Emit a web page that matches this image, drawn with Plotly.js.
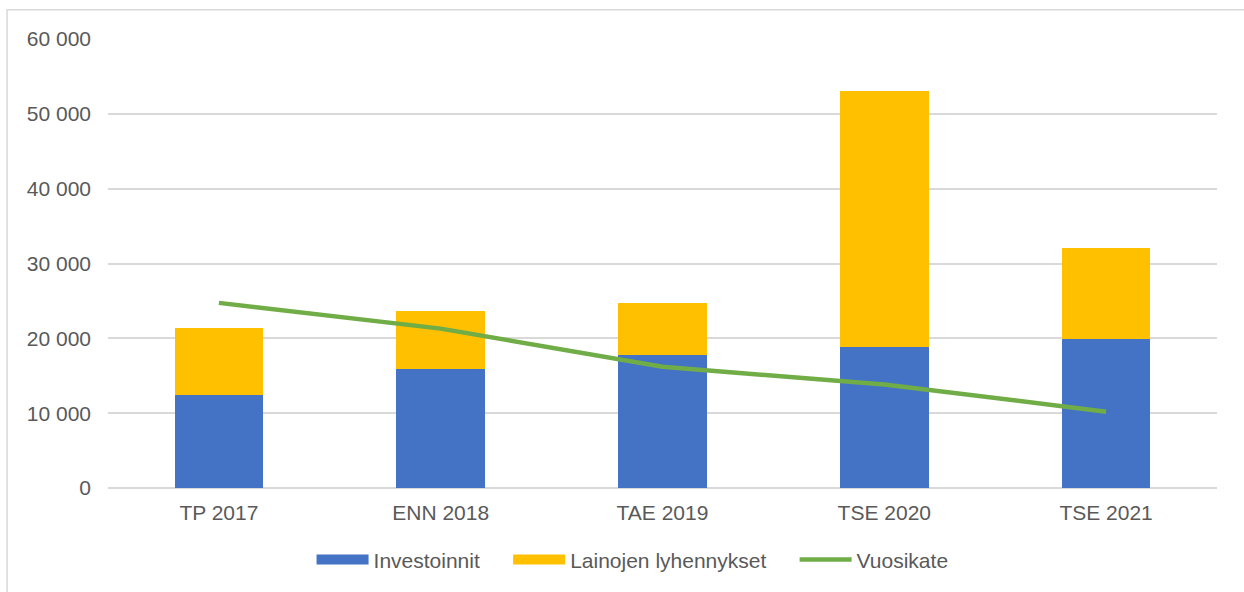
<!DOCTYPE html>
<html>
<head>
<meta charset="utf-8">
<script src="https://cdn.plot.ly/plotly-3.0.1.min.js"></script>
<style>
  html, body { margin: 0; padding: 0; background: #fff; }
  #chart { width: 1244px; height: 592px; }
</style>
</head>
<body>
<div id="chart"></div>
<script>
// Categories on the x axis
let categories = ["TP 2017", "ENN 2018", "TAE 2019", "TSE 2020", "TSE 2021"];

// Series values
let investoinnit = [12370, 15870, 17830, 18800, 19860];
let lainojenLyhennykset = [9050, 7720, 6910, 34190, 12240];
let vuosikate = [24740, 21300, 16190, 13840, 10200];

// Y axis ticks
let yTicks = [0, 10000, 20000, 30000, 40000, 50000, 60000];

let textColor = "#595959";
let gridColor = "#D9D9D9";
let font = "Liberation Sans, Arial, sans-serif";

// a few non-breaking spaces to open up the legend like in the original
let pad = "\u00a0\u00a0\u00a0\u00a0";

let trace1 = {
  x: categories,
  y: investoinnit,
  name: "Investoinnit",
  type: "bar",
  marker: { color: "#4472C4" },
  legendgroup: "inv",
  showlegend: false
};

let trace2 = {
  x: categories,
  y: lainojenLyhennykset,
  name: "Lainojen lyhennykset",
  type: "bar",
  marker: { color: "#FFC000" },
  legendgroup: "lai",
  showlegend: false
};

let trace3 = {
  x: categories,
  y: vuosikate,
  name: "Vuosikate",
  type: "scatter",
  mode: "lines",
  line: { color: "#70AD47", width: 4.5 },
  legendgroup: "vuo",
  showlegend: false
};

// Legend entries with wide swatches like the original
let legend1 = { x: [null], y: [null], name: "Investoinnit" + pad, type: "scatter", mode: "lines",
  line: { color: "#4472C4", width: 11 }, legendgroup: "inv" };
let legend2 = { x: [null], y: [null], name: "Lainojen lyhennykset" + pad, type: "scatter", mode: "lines",
  line: { color: "#FFC000", width: 11 }, legendgroup: "lai" };
let legend3 = { x: [null], y: [null], name: "Vuosikate", type: "scatter", mode: "lines",
  line: { color: "#70AD47", width: 4.5 }, legendgroup: "vuo" };

let data = [trace1, trace2, trace3, legend1, legend2, legend3];

let layout = {
  width: 1244,
  height: 592,
  margin: { l: 108, r: 27, t: 39, b: 102 },
  barmode: "stack",
  bargap: 0.6,
  separators: ", ",
  paper_bgcolor: "#fff",
  plot_bgcolor: "#fff",
  font: { family: font, size: 21, color: textColor },
  xaxis: {
    type: "category",
    showgrid: false,
    showline: false,
    zeroline: false,
    ticks: "",
    ticklabelstandoff: 10,
    tickfont: { size: 21, color: textColor }
  },
  yaxis: {
    range: [0, 60000],
    tickvals: yTicks,
    tickformat: ",d",
    showgrid: true,
    gridcolor: gridColor,
    gridwidth: 1.5,
    zeroline: true,
    zerolinecolor: gridColor,
    zerolinewidth: 1.5,
    showline: false,
    ticks: "",
    ticklabelstandoff: 16,
    tickfont: { size: 21, color: textColor }
  },
  showlegend: true,
  legend: {
    orientation: "h",
    x: 0.473,
    xanchor: "center",
    y: -0.16,
    yanchor: "middle",
    itemwidth: 52,
    font: { size: 21, color: textColor },
    bgcolor: "rgba(0,0,0,0)"
  },
  shapes: [
    {
      type: "rect",
      xref: "paper",
      yref: "paper",
      x0: -0.091,
      x1: 1.1,
      y0: -0.4,
      y1: 1.065,
      line: { color: gridColor, width: 1.5 },
      fillcolor: "rgba(0,0,0,0)",
      layer: "below"
    }
  ]
};

Plotly.newPlot("chart", data, layout, { displayModeBar: false });
</script>
</body>
</html>
